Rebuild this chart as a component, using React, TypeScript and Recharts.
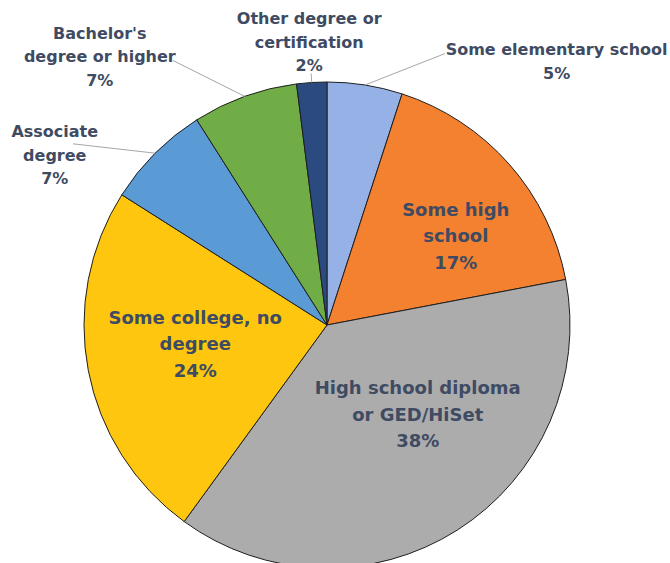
import { PieChart, Pie, Cell } from 'recharts'

const categories = [
  'Some elementary school',
  'Some high\nschool',
  'High school diploma\nor GED/HiSet',
  'Some college, no\ndegree',
  'Associate\ndegree',
  "Bachelor's\ndegree or higher",
  'Other degree or\ncertification',
]
const shares = [5, 17, 38, 24, 7, 7, 2]
const colors = ['#95b1e6', '#f3812f', '#acacac', '#fec60f', '#5b9bd5', '#70ad47', '#2b4a80']

// label placement relative to each slice's middle angle
const labelLayout = [
  { r: 350, dAngle: -32, outside: true, lineR: 296, lineAngle: -14.5 },
  { r: 157, dAngle: -6.5, outside: false },
  { r: 127, dAngle: 13.2, outside: false },
  { r: 133, dAngle: -3, outside: false },
  { r: 321, dAngle: 13, outside: true, lineR: 312, lineAngle: 9.5 },
  { r: 352, dAngle: 20.4, outside: true, lineR: 306, lineAngle: 10.4 },
  { r: 284, dAngle: 0, outside: true, lineR: 252, lineAngle: 0 },
]

const data = categories.map((name, i) => ({ name, value: shares[i] }))

const RAD = Math.PI / 180
const textColor = '#3f4b62'

const polar = (cx: number, cy: number, r: number, deg: number) => ({
  x: cx + r * Math.cos(-deg * RAD),
  y: cy + r * Math.sin(-deg * RAD),
})

function renderLabel(props: any) {
  const { cx, cy, midAngle, outerRadius, index } = props
  const lay = labelLayout[index]
  const p = polar(cx, cy, lay.r, midAngle + lay.dAngle)
  const lines = [...categories[index].split('\n'), `${shares[index]}%`]
  const lh = lay.outside ? 23.5 : 26.5
  const y0 = p.y - ((lines.length - 1) * lh) / 2
  let leader = null
  if (lay.outside) {
    const a = polar(cx, cy, outerRadius, midAngle)
    const b = polar(cx, cy, lay.lineR!, midAngle + lay.lineAngle!)
    leader = (
      <line x1={a.x} y1={a.y} x2={b.x} y2={b.y} stroke="#a6a6a6" strokeWidth={1} />
    )
  }
  return (
    <g key={`lbl-${index}`}>
      {leader}
      <text
        x={p.x}
        y={y0}
        textAnchor="middle"
        dominantBaseline="central"
        fill={textColor}
        fontFamily="DejaVu Sans"
        fontWeight="bold"
        fontSize={lay.outside ? 16 : 18}
      >
        {lines.map((t, i) => (
          <tspan key={i} x={p.x} y={y0 + i * lh}>
            {t}
          </tspan>
        ))}
      </text>
    </g>
  )
}

export default function App() {
  return (
    <div style={{ position: 'absolute', left: 0, top: 0, background: '#fff' }}>
      <PieChart width={670} height={563} margin={{ top: 0, right: 0, bottom: 0, left: 0 }}>
        <Pie
          data={data}
          dataKey="value"
          nameKey="name"
          cx={327}
          cy={325}
          outerRadius={243}
          startAngle={90}
          endAngle={-270}
          stroke="#1f1f1f"
          strokeWidth={1}
          label={renderLabel}
          labelLine={false}
          isAnimationActive={false}
        >
          {data.map((d, i) => (
            <Cell key={d.name} fill={colors[i]} />
          ))}
        </Pie>
      </PieChart>
    </div>
  )
}
